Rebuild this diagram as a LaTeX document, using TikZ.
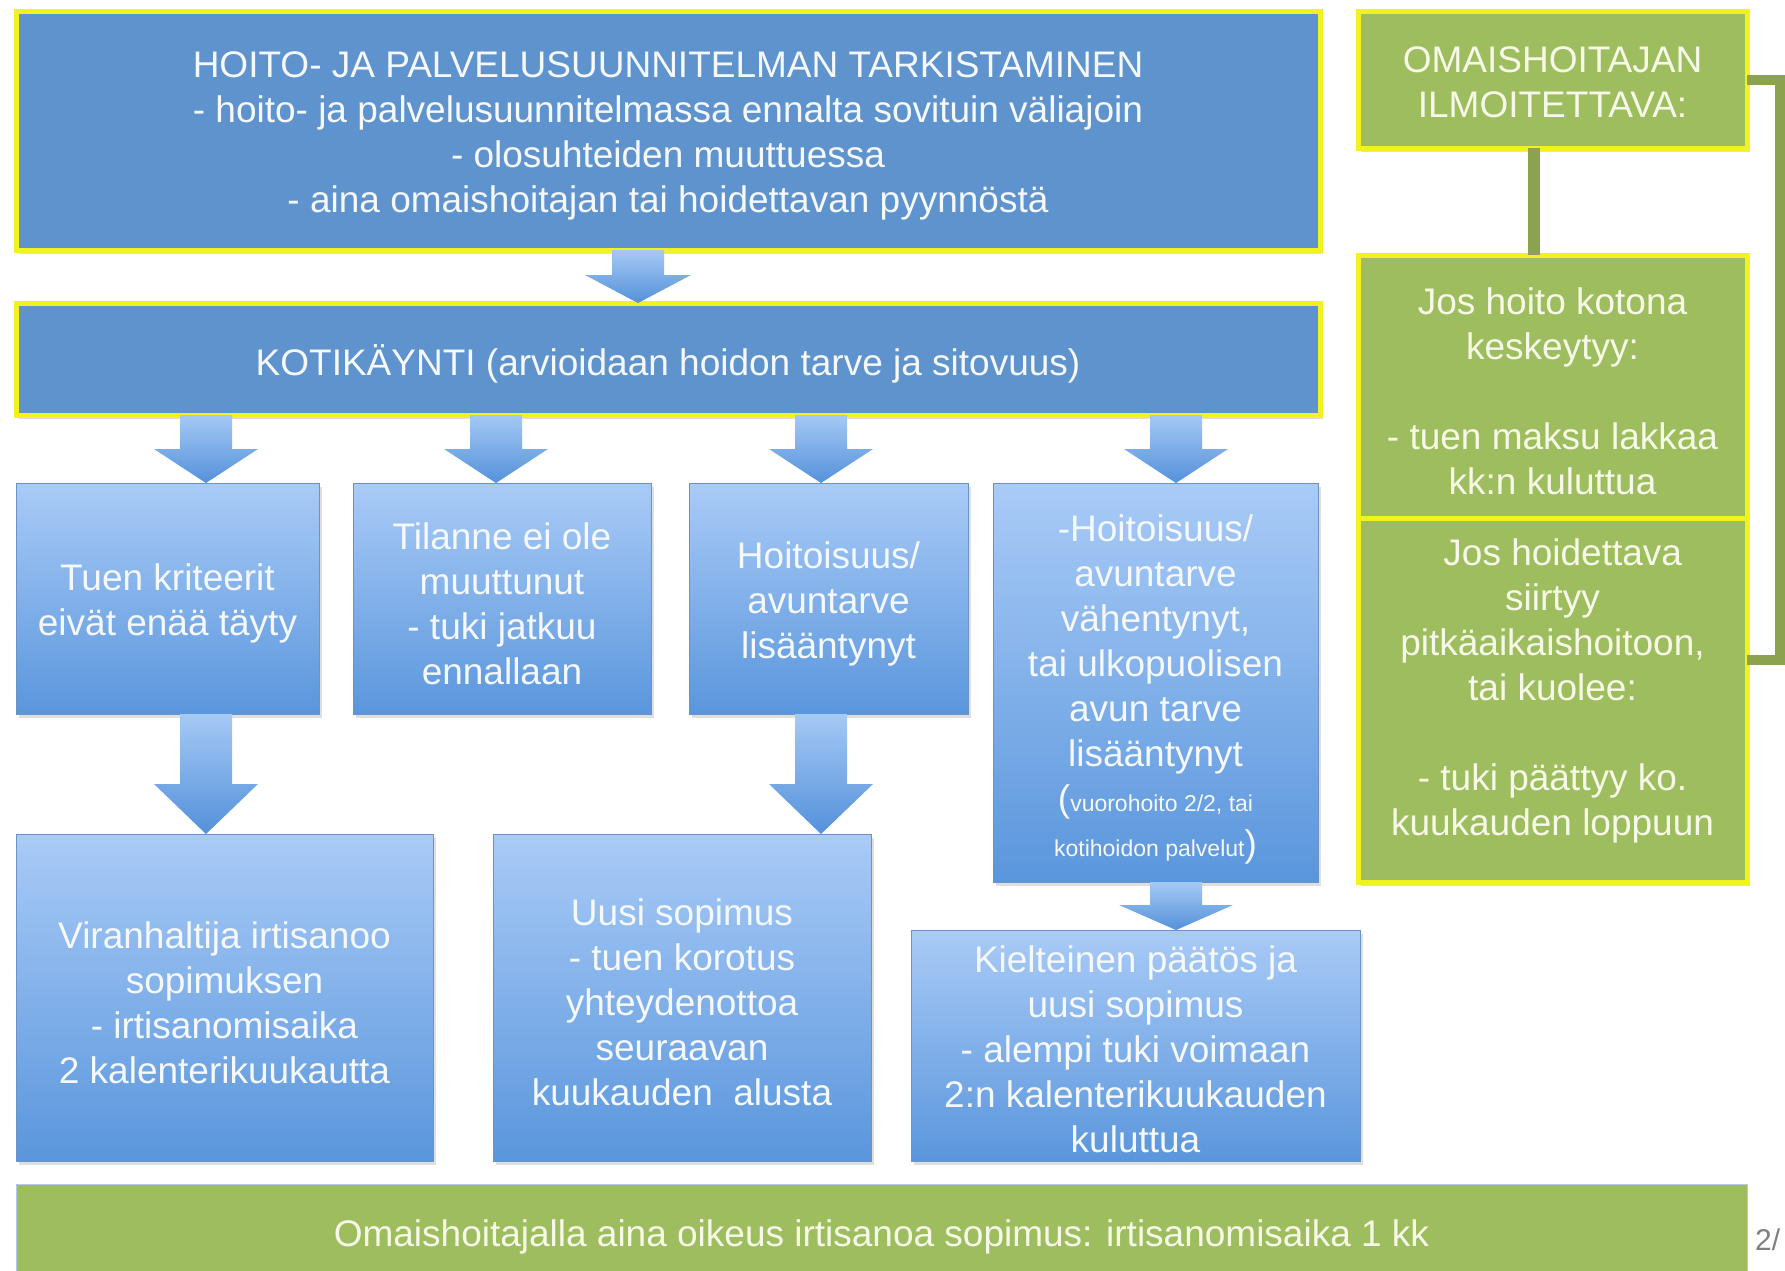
\documentclass[tikz,border=0pt]{standalone}
\usepackage{fontspec}
\setmainfont{Liberation Sans}
\usetikzlibrary{calc,shadows}
\definecolor{topblue}{HTML}{5F93CD}
\definecolor{yel}{HTML}{F2F21E}
\definecolor{ltblue}{HTML}{A9CBF7}
\definecolor{dkblue}{HTML}{5A96DC}
\definecolor{edgeblue}{HTML}{6B93C6}
\definecolor{arrtop}{HTML}{A5C9F5}
\definecolor{arrbot}{HTML}{5491DA}
\definecolor{olive}{HTML}{9EBD5E}
\definecolor{oliveline}{HTML}{8BA24E}
\definecolor{txtw}{HTML}{F5F8FC}
\definecolor{txtg}{HTML}{F7F9E8}
\tikzset{
 base/.style={inner sep=0pt, outer sep=0pt},
 shad/.style={drop shadow={opacity=.25, shadow xshift=3pt, shadow yshift=-4pt}},
 topbox/.style={base, shad, fill=topblue, draw=yel, line width=5pt},
 gradbox/.style={base, shad, top color=ltblue, bottom color=dkblue, draw=edgeblue, line width=1pt},
 greenbox/.style={base, shad, fill=olive, draw=yel, line width=5pt},
 barbox/.style={base, fill=olive, draw=edgeblue!50, line width=1pt},
 txt/.style={inner sep=0pt, align=center, font=\fontsize{37}{45}\selectfont},
 txtb/.style={txt, text=txtw},
 txtgr/.style={txt, text=txtg},
 arrowshade/.style={top color=arrtop, bottom color=arrbot},
 gline/.style={draw=oliveline, line width=12pt},
 bline/.style={draw=oliveline, line width=10pt},
}
% [#1 text shift] #2 name, #3 x1, #4 y1, #5 x2, #6 y2, #7 box style, #8 text style, #9 text
\newcommand\mybox[9][5]{%
 \node[#7, minimum width={(#5-#3)*1pt}, minimum height={(#6-#4)*1pt}] (#2) at ({(#3+#5)/2},{(#4+#6)/2}) {};
 \node[#8] (#2t) at ([yshift=-#1pt]#2.center) {#9};}
\newcommand\barrow[5]{%
 \path[arrowshade] let \p1=(#2.south), \p2=(#3.north) in
  ({(#1-26)*1pt},\y1) -- ({(#1-26)*1pt},{\y2+#4*1pt}) -- ({(#1-#5)*1pt},{\y2+#4*1pt}) -- ({#1*1pt},\y2) -- ({(#1+#5)*1pt},{\y2+#4*1pt}) -- ({(#1+26)*1pt},{\y2+#4*1pt}) -- ({(#1+26)*1pt},\y1) -- cycle;}
\newcommand\smallf{\fontsize{23}{45}\selectfont}
\begin{document}
\begin{tikzpicture}[x=1pt,y=-1pt]
\fill[white] (0,0) rectangle (1785,1270);
\useasboundingbox (0,0) rectangle (1785,1270);
\mybox{top}{16}{11}{1320}{250}{topbox}{txtb}{HOITO- JA PALVELUSUUNNITELMAN TARKISTAMINEN\\- hoito- ja palvelusuunnitelmassa ennalta sovituin väliajoin\\- olosuhteiden muuttuessa\\- aina omaishoitajan tai hoidettavan pyynnöstä}
\mybox{koti}{16}{303}{1320}{415}{topbox}{txtb}{KOTIKÄYNTI (arvioidaan hoidon tarve ja sitovuus)}
\mybox{b1}{16}{483}{319}{714}{gradbox}{txtb}{Tuen kriteerit\\eivät enää täyty}
\mybox{b2}{353}{483}{651}{714}{gradbox}{txtb}{Tilanne ei ole\\muuttunut\\- tuki jatkuu\\ennallaan}
\mybox{b3}{689}{483}{968}{714}{gradbox}{txtb}{Hoitoisuus/\\avuntarve\\lisääntynyt}
\mybox[7]{b4}{993}{483}{1318}{882}{gradbox}{txtb}{-Hoitoisuus/\\avuntarve\\vähentynyt,\\tai ulkopuolisen\\avun tarve\\lisääntynyt\\({\smallf vuorohoito 2/2, tai}\\{\smallf kotihoidon palvelut})}
\mybox{b5}{16}{834}{433}{1161}{gradbox}{txtb}{Viranhaltija irtisanoo\\sopimuksen\\- irtisanomisaika\\2 kalenterikuukautta}
\mybox{b6}{493}{834}{871}{1161}{gradbox}{txtb}{Uusi sopimus\\- tuen korotus\\yhteydenottoa\\seuraavan\\kuukauden\ \ alusta}
\mybox[4]{b7}{911}{930}{1360}{1161}{gradbox}{txtb}{Kielteinen päätös ja\\uusi sopimus\\- alempi tuki voimaan\\2:n kalenterikuukauden\\kuluttua}
\mybox[3]{g1}{1358}{11}{1747}{148}{greenbox}{txtgr}{OMAISHOITAJAN\\ILMOITETTAVA:}
\mybox{g2}{1358}{255}{1747}{518}{greenbox}{txtgr}{Jos hoito kotona\\keskeytyy:\\[45pt]- tuen maksu lakkaa\\kk:n kuluttua}
\mybox[-9]{g3}{1358}{518}{1747}{882}{greenbox}{txtgr}{\ \ Jos hoidettava\\siirtyy\\pitkäaikaishoitoon,\\tai kuolee:\\[45pt]- tuki päättyy ko.\\kuukauden loppuun}
\mybox[4]{bar}{16}{1184}{1747}{1282}{barbox}{txtgr}{Omaishoitajalla aina oikeus irtisanoa sopimus: irtisanomisaika 1 kk}
\node[anchor=base west, inner sep=0pt, text=gray, font=\fontsize{30}{36}\selectfont] (pg) at (1755,1250) {2/};
% block arrows
\barrow{638}{top}{koti}{28}{53}
\barrow{206}{koti}{b1}{34}{52}
\barrow{496}{koti}{b2}{34}{52}
\barrow{821}{koti}{b3}{34}{52}
\barrow{1176}{koti}{b4}{34}{52}
\barrow{206}{b1}{b5}{50}{52}
\barrow{821}{b3}{b6}{50}{52}
\barrow{1176}{b4}{b7}{25}{57}
% green connectors
\draw[gline] ([xshift=-18.5pt]g1.south) -- ([xshift=-18.5pt]g2.north);
\coordinate (bk) at (1780,660);
\draw[bline] (g1.east) -| (bk) -- (bk -| g3.east);
\end{tikzpicture}
\end{document}
